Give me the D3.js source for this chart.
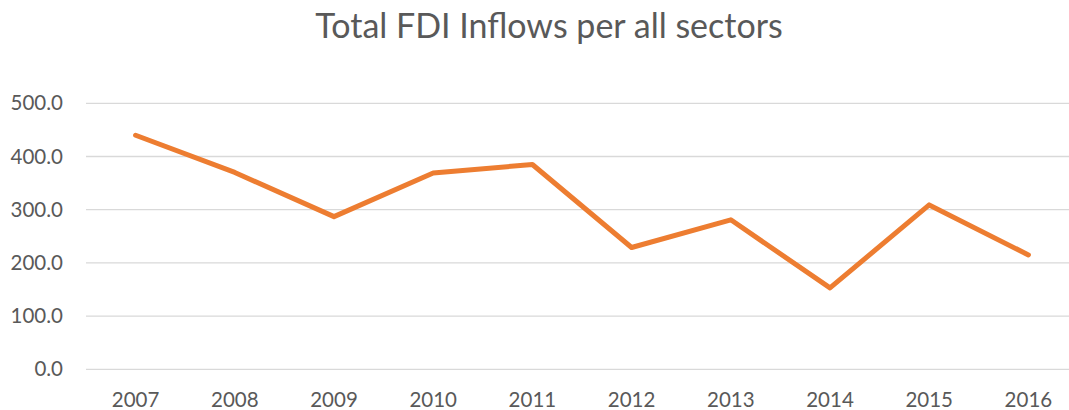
<!DOCTYPE html>
<html>
<head>
<meta charset="utf-8">
<script src="https://cdn.jsdelivr.net/npm/d3@7"></script>
<style>
  body { margin: 0; background: #fff; }
  text { font-family: Lato, 'Open Sans', sans-serif; fill: #595959; }
</style>
</head>
<body>
<div id="chart"></div>
<script>
const years = ['2007', '2008', '2009', '2010', '2011', '2012', '2013', '2014', '2015', '2016']
const inflows = [440, 370, 287, 369, 385, 229, 281, 153, 309, 215]
const yTicks = [0, 100, 200, 300, 400, 500]

const chartTitle = 'Total FDI Inflows per all sectors'

const margin = { top: 103, right: 0, bottom: 41, left: 86 }
const width = 1069 - margin.left - margin.right
const height = 410 - margin.top - margin.bottom

const root = d3
  .select('#chart')
  .append('svg')
  .attr('width', 1069)
  .attr('height', 410)

const svg = root
  .append('g')
  .attr('transform', 'translate(' + margin.left + ',' + margin.top + ')')

// band scale, plot runs a little past the right edge (cropped picture)
const xPositionScale = d3.scaleBand().domain(years).range([0, 992])

const yPositionScale = d3.scaleLinear().domain([0, 500]).range([height + 0.3, 0.3])

root
  .append('text')
  .attr('x', 549)
  .attr('y', 38)
  .attr('text-anchor', 'middle')
  .style('font-size', '34px')
  .text(chartTitle)

// gridlines
svg
  .selectAll('.grid')
  .data(yTicks)
  .enter()
  .append('line')
  .attr('class', 'grid')
  .attr('x1', 0)
  .attr('x2', width)
  .attr('y1', d => yPositionScale(d))
  .attr('y2', d => yPositionScale(d))
  .attr('stroke', '#d9d9d9')
  .attr('stroke-width', 1.3)

const yAxis = d3
  .axisLeft(yPositionScale)
  .tickValues(yTicks)
  .tickFormat(d3.format('.1f'))
  .tickSize(0)
  .tickPadding(23)

svg
  .append('g')
  .attr('class', 'axis y-axis')
  .call(yAxis)
  .call(g => g.select('.domain').remove())
  .selectAll('text')
  .style('font-size', '20.5px')
  .attr('fill', null)

const xAxis = d3.axisBottom(xPositionScale).tickSize(0).tickPadding(23)

svg
  .append('g')
  .attr('class', 'axis x-axis')
  .attr('transform', 'translate(0,' + height + ')')
  .call(xAxis)
  .call(g => g.select('.domain').remove())
  .selectAll('text')
  .style('font-size', '20.5px')
  .attr('fill', null)

const line = d3
  .line()
  .x((d, i) => xPositionScale(years[i]) + xPositionScale.bandwidth() / 2)
  .y(d => yPositionScale(d))

svg
  .append('path')
  .datum(inflows)
  .attr('d', line)
  .attr('fill', 'none')
  .attr('stroke', '#ed7d31')
  .attr('stroke-width', 5)
  .attr('stroke-linejoin', 'round')
  .attr('stroke-linecap', 'round')
</script>
</body>
</html>
